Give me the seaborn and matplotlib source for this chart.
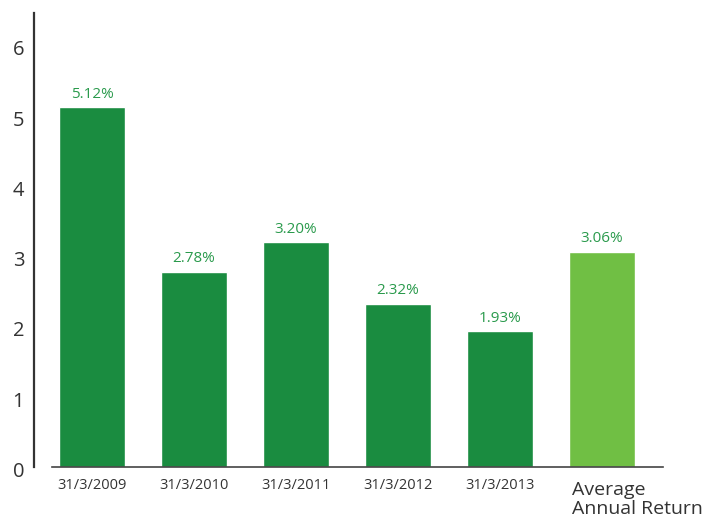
import matplotlib
matplotlib.use('Agg')
import matplotlib.pyplot as plt
import matplotlib.transforms as mtransforms
import seaborn as sns

categories = ['31/3/2009', '31/3/2010', '31/3/2011', '31/3/2012', '31/3/2013', 'Average\nAnnual Return']
returns = [5.12, 2.78, 3.20, 2.32, 1.93, 3.06]
value_labels = ['5.12%', '2.78%', '3.20%', '2.32%', '1.93%', '3.06%']
bar_colors = ['#1a8c40', '#1a8c40', '#1a8c40', '#1a8c40', '#1a8c40', '#70bf44']

sns.set_style('white')
plt.rcParams['font.family'] = ['Open Sans', 'DejaVu Sans']

fig = plt.figure(figsize=(7.06, 5.2), dpi=100)
ax = fig.add_axes([34 / 706, 53 / 520, (663 - 34) / 706, (467 - 13) / 520])

sns.barplot(x=categories, y=returns, hue=categories, palette=bar_colors,
            width=0.65, legend=False, ax=ax, saturation=1)

ax.set_xlim(-0.57, 5.6)
ax.set_ylim(0, 6.46)
ax.set_xlabel('')
ax.set_ylabel('')

# etichette valori sopra le barre
for i, (v, lab) in enumerate(zip(returns, value_labels)):
    ax.annotate(lab, (i, v), xytext=(0, 4), textcoords='offset points',
                ha='center', va='bottom', color='#2a9a4c', fontsize=11)

ax.set_yticks(range(7))
ax.set_yticklabels([str(t) for t in range(7)], fontsize=14.5, color='#333333')
ax.tick_params(axis='y', length=0, pad=7)

ax.set_xticks(range(6))
ax.set_xticklabels(categories[:5] + [''], fontsize=10.5, color='#333333')
ax.tick_params(axis='x', length=0, pad=8)
ax.text(5 - 0.29, -0.2, categories[5], ha='left', va='top', fontsize=14,
        color='#333333', linespacing=1.05)

sns.despine(ax=ax, top=True, right=True)
ax.spines['left'].set_color('#333333')
ax.spines['left'].set_linewidth(1.6)
ax.spines['bottom'].set_color('#444444')
ax.spines['bottom'].set_linewidth(1.2)
ax.spines['bottom'].set_bounds(-0.39, 5.6)

# numeri asse y un po' più in basso rispetto al tick
shift = mtransforms.ScaledTranslation(0, -5 / 100, fig.dpi_scale_trans)
for t in ax.get_yticklabels():
    t.set_va('center')
    t.set_transform(t.get_transform() + shift)

fig.savefig('out.png', dpi=100)
